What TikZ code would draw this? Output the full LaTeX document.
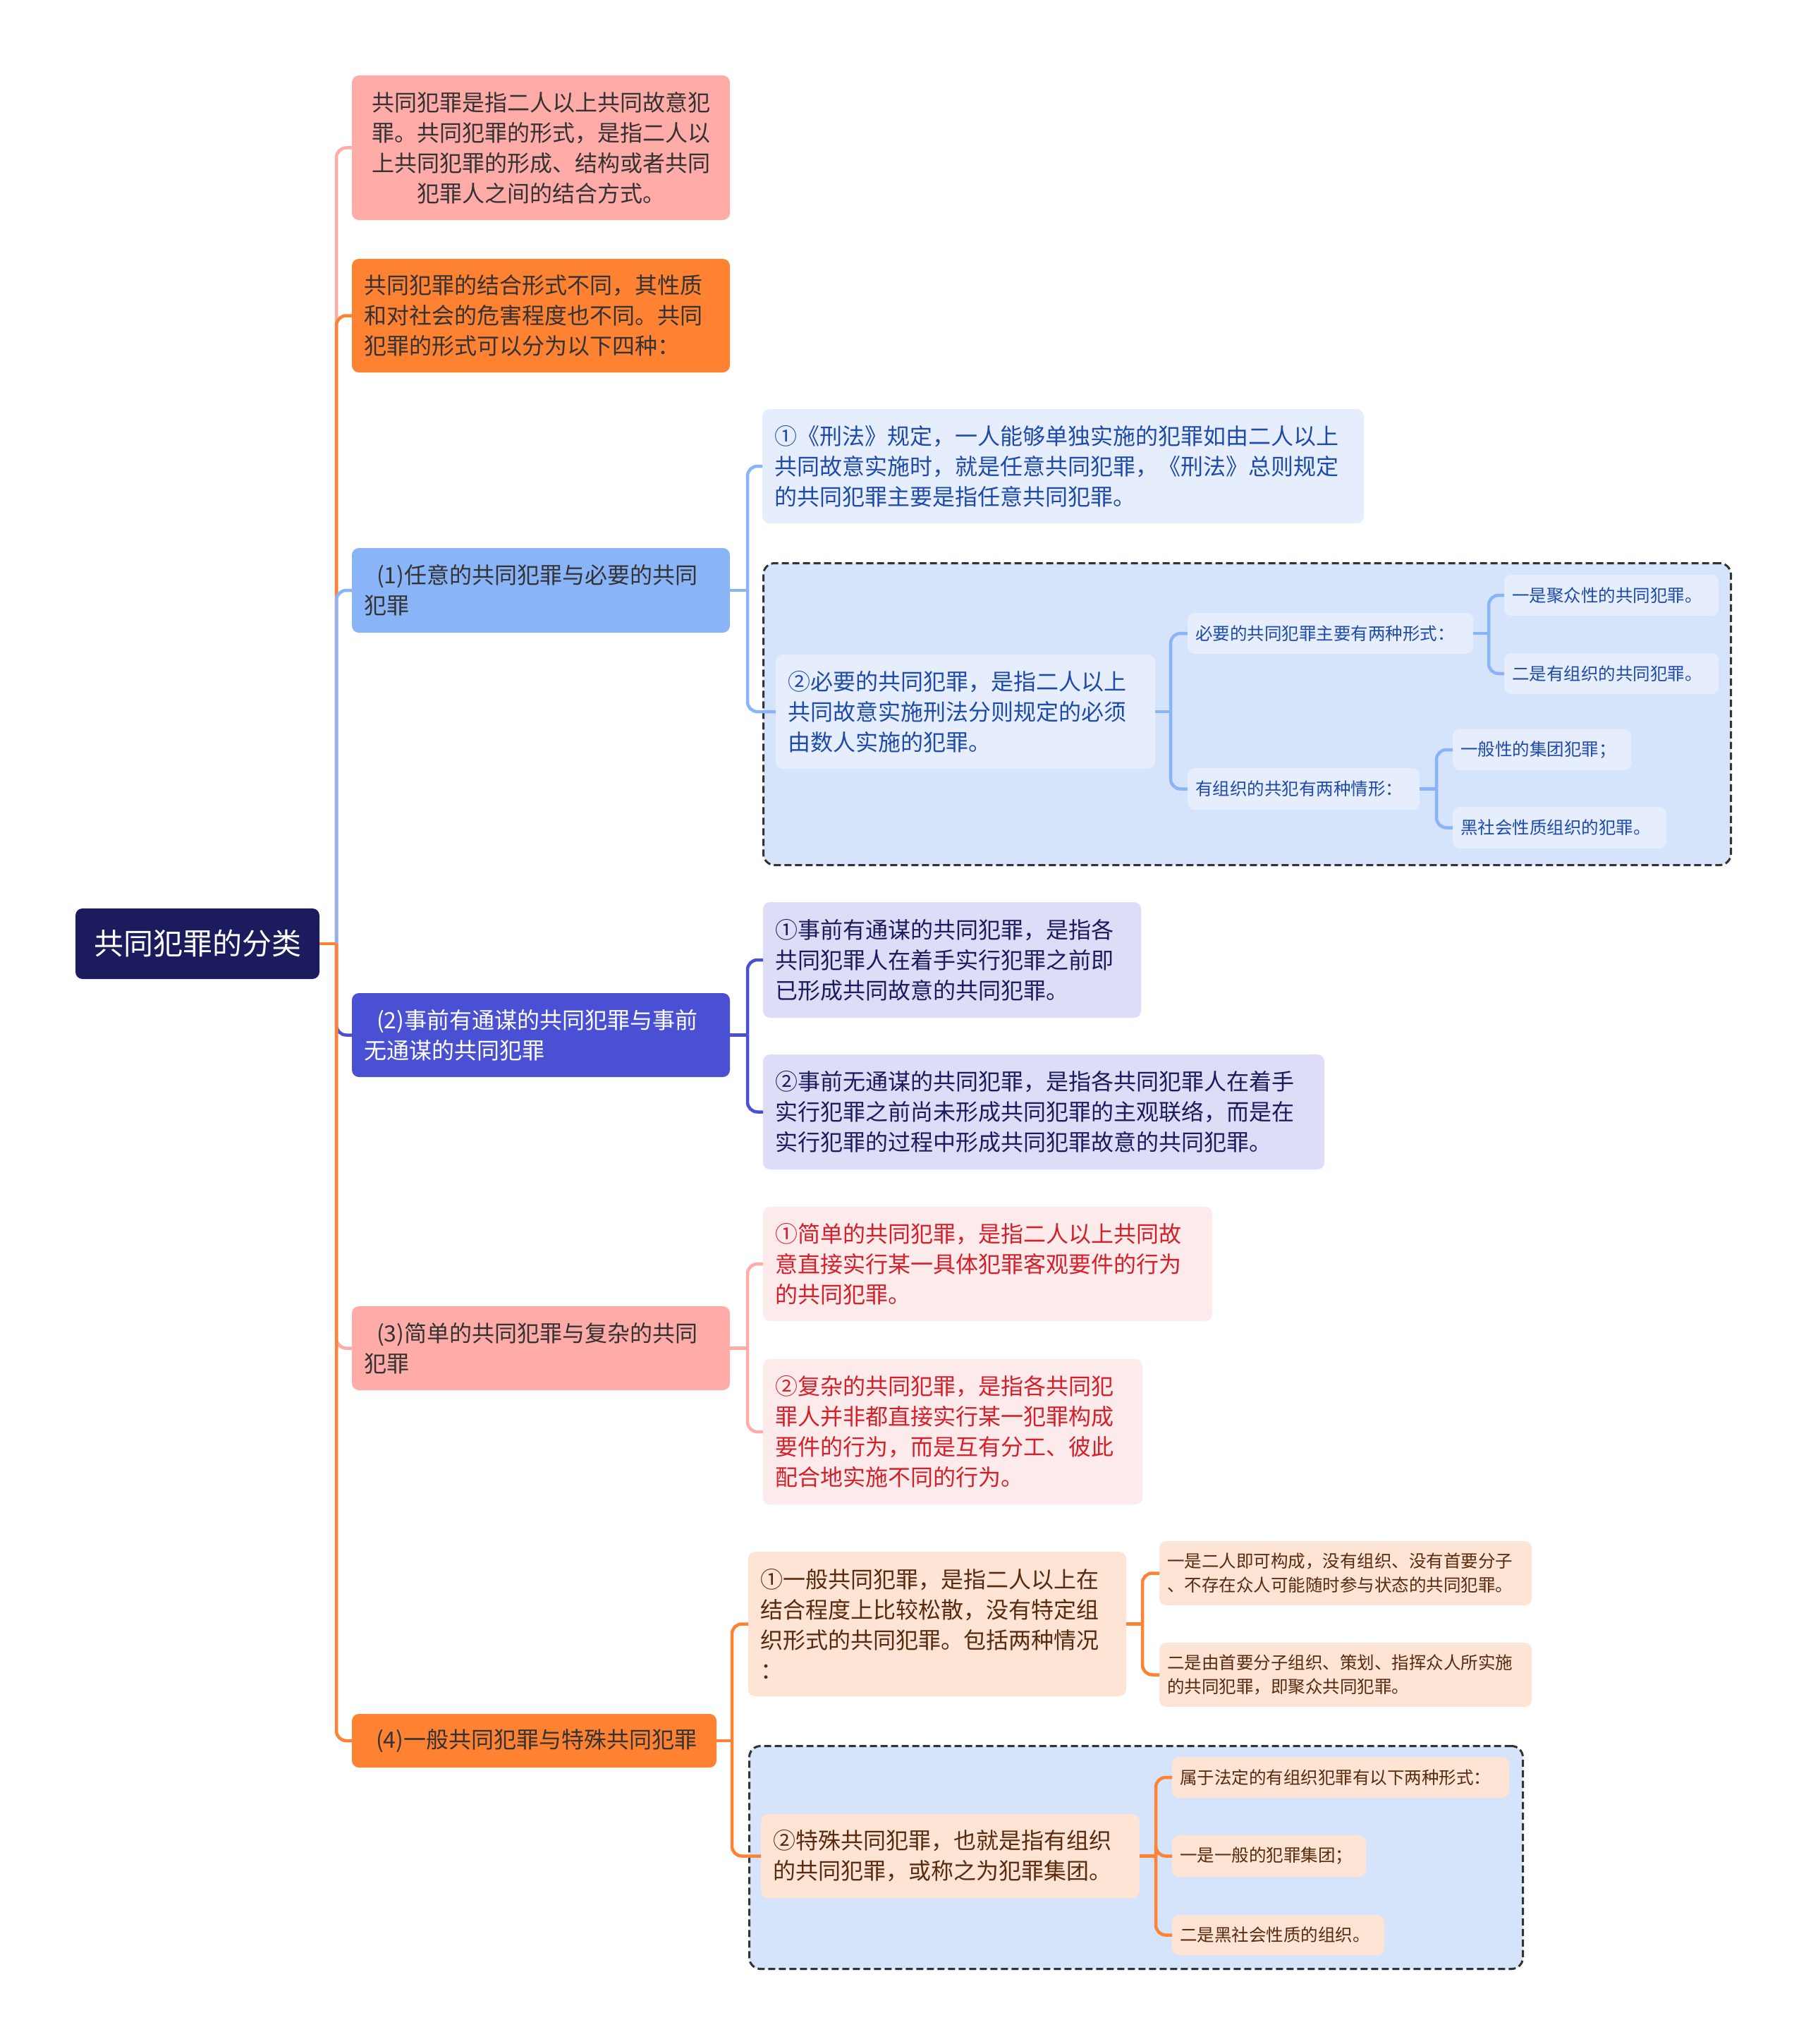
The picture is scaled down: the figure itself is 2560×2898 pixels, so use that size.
\documentclass[tikz,border=0pt]{standalone}
\usepackage{fontspec}
\setmainfont{Noto Sans CJK SC}
\definecolor{rootc}{HTML}{1C1B5E}
\definecolor{pinkc}{HTML}{FFABA8}
\definecolor{orangec}{HTML}{FF8132}
\definecolor{bluec}{HTML}{8AB4F8}
\definecolor{indigoc}{HTML}{4A50D4}
\definecolor{lblue}{HTML}{E6EEFD}
\definecolor{grpblue}{HTML}{D5E3FB}
\definecolor{lindigo}{HTML}{DDDDF8}
\definecolor{lpink}{HTML}{FDEBEB}
\definecolor{lorange}{HTML}{FDE4D5}
\definecolor{tblue}{HTML}{1E4BAA}
\definecolor{tnavy}{HTML}{1C1B5E}
\definecolor{tred}{HTML}{D4202A}
\definecolor{tbrown}{HTML}{5A2A0E}
\definecolor{tdark}{HTML}{333333}
\definecolor{dashc}{HTML}{333333}
\newcommand\nodebox[8]{%
  \pgfmathsetmacro\bxw{#4-#2}%
  \pgfmathsetmacro\bxh{#5-#3}%
  \pgfmathsetmacro\bxt{#4-#2-2*#6}%
  \node[#7, anchor=north west, inner xsep=#6pt, minimum width=\bxw pt, minimum height=\bxh pt, text width=\bxt pt] (#1) at (#2,#3) {#8};}
\begin{document}
\begin{tikzpicture}[x=1pt,y=-1pt,
  box/.style={rounded corners=10pt, inner ysep=0pt, outer sep=0pt, align=left},
  big/.style={box, font=\fontsize{32}{43}\selectfont},
  small/.style={box, font=\fontsize{24.5}{34}\selectfont},
  dbox/.style={rounded corners=16pt, draw=dashc, line width=3pt, dash pattern=on 10pt off 5pt, fill=grpblue, inner sep=0pt},
  conn/.style={line width=4.5pt, rounded corners=14pt}]
\useasboundingbox (0,0) rectangle (2560,2898);
\fill[white] (0,0) rectangle (2560,2898);
% group frames
\nodebox{Cgrp}{1081}{797}{2453}{1225}{0}{dbox}{}
\nodebox{Fgrp}{1061}{2474}{2158}{2790}{0}{dbox}{}
% root
\nodebox{root}{107}{1288}{453}{1388}{10}{box, align=center, fill=rootc, text=white, font=\fontsize{42}{50}\selectfont}{共同犯罪的分类}
% level 1
\nodebox{A}{499}{107}{1035}{312}{17}{big, align=center, fill=pinkc, text=tdark}{共同犯罪是指二人以上共同故意犯\\罪。共同犯罪的形式，是指二人以\\上共同犯罪的形成、结构或者共同\\犯罪人之间的结合方式。}
\nodebox{B}{499}{367}{1035}{528}{17}{big, fill=orangec, text=tdark}{共同犯罪的结合形式不同，其性质\\和对社会的危害程度也不同。共同\\犯罪的形式可以分为以下四种：}
\nodebox{C}{499}{777}{1035}{897}{17}{big, fill=bluec, text=tdark}{\hspace*{18pt}(1)任意的共同犯罪与必要的共同\\犯罪}
\nodebox{D}{499}{1408}{1035}{1527}{17}{big, fill=indigoc, text=white}{\hspace*{18pt}(2)事前有通谋的共同犯罪与事前\\无通谋的共同犯罪}
\nodebox{E}{499}{1852}{1035}{1971}{17}{big, fill=pinkc, text=tdark}{\hspace*{18pt}(3)简单的共同犯罪与复杂的共同\\犯罪}
\nodebox{F}{499}{2430}{1016}{2506}{16}{big, fill=orangec, text=tdark}{\hspace*{18pt}(4)一般共同犯罪与特殊共同犯罪}
% group C
\nodebox{C1}{1081}{580}{1934}{742}{17}{big, fill=lblue, text=tblue}{①《刑法》规定，一人能够单独实施的犯罪如由二人以上\\共同故意实施时，就是任意共同犯罪，《刑法》总则规定\\的共同犯罪主要是指任意共同犯罪。}
\nodebox{C2}{1100}{928}{1638}{1090}{17}{big, fill=lblue, text=tblue}{②必要的共同犯罪，是指二人以上\\共同故意实施刑法分则规定的必须\\由数人实施的犯罪。}
\nodebox{C2a}{1684}{869}{2089}{927}{11}{small, fill=lblue, text=tblue}{必要的共同犯罪主要有两种形式：}
\nodebox{C2a1}{2133}{815}{2437}{873}{11}{small, fill=lblue, text=tblue}{一是聚众性的共同犯罪。}
\nodebox{C2a2}{2133}{926}{2437}{984}{11}{small, fill=lblue, text=tblue}{二是有组织的共同犯罪。}
\nodebox{C2b}{1684}{1089}{2013}{1148}{11}{small, fill=lblue, text=tblue}{有组织的共犯有两种情形：}
\nodebox{C2b1}{2060}{1034}{2313}{1092}{11}{small, fill=lblue, text=tblue}{一般性的集团犯罪；}
\nodebox{C2b2}{2060}{1144}{2363}{1203}{11}{small, fill=lblue, text=tblue}{黑社会性质组织的犯罪。}
% group D
\nodebox{D1}{1082}{1279}{1618}{1443}{17}{big, fill=lindigo, text=tnavy}{①事前有通谋的共同犯罪，是指各\\共同犯罪人在着手实行犯罪之前即\\已形成共同故意的共同犯罪。}
\nodebox{D2}{1082}{1495}{1878}{1658}{17}{big, fill=lindigo, text=tnavy}{②事前无通谋的共同犯罪，是指各共同犯罪人在着手\\实行犯罪之前尚未形成共同犯罪的主观联络，而是在\\实行犯罪的过程中形成共同犯罪故意的共同犯罪。}
% group E
\nodebox{E1}{1082}{1711}{1719}{1873}{17}{big, fill=lpink, text=tred}{①简单的共同犯罪，是指二人以上共同故\\意直接实行某一具体犯罪客观要件的行为\\的共同犯罪。}
\nodebox{E2}{1082}{1927}{1620}{2133}{17}{big, fill=lpink, text=tred}{②复杂的共同犯罪，是指各共同犯\\罪人并非都直接实行某一犯罪构成\\要件的行为，而是互有分工、彼此\\配合地实施不同的行为。}
% group F
\nodebox{F1}{1061}{2200}{1597}{2405}{17}{big, fill=lorange, text=tbrown}{①一般共同犯罪，是指二人以上在\\结合程度上比较松散，没有特定组\\织形式的共同犯罪。包括两种情况\\：}
\nodebox{F1a}{1644}{2185}{2172}{2276}{11}{small, fill=lorange, text=tbrown}{一是二人即可构成，没有组织、没有首要分子\\、不存在众人可能随时参与状态的共同犯罪。}
\nodebox{F1b}{1644}{2329}{2172}{2420}{11}{small, fill=lorange, text=tbrown}{二是由首要分子组织、策划、指挥众人所实施\\的共同犯罪，即聚众共同犯罪。}
\nodebox{F2}{1079}{2572}{1616}{2691}{17}{big, fill=lorange, text=tbrown}{②特殊共同犯罪，也就是指有组织\\的共同犯罪，或称之为犯罪集团。}
\nodebox{F2a}{1662}{2491}{2140}{2549}{11}{small, fill=lorange, text=tbrown}{属于法定的有组织犯罪有以下两种形式：}
\nodebox{F2b}{1662}{2602}{1937}{2661}{11}{small, fill=lorange, text=tbrown}{一是一般的犯罪集团；}
\nodebox{F2c}{1662}{2715}{1963}{2772}{11}{small, fill=lorange, text=tbrown}{二是黑社会性质的组织。}
% junctions
\path (root.east) ++(24,0) coordinate (jr);
\path (C.east) ++(25,0) coordinate (jc);
\path (D.east) ++(25,0) coordinate (jd);
\path (E.east) ++(25,0) coordinate (je);
\path (F.east) ++(22,0) coordinate (jf);
\path (C2.east) ++(22,0) coordinate (jc2);
\path (C2a.east) ++(22,0) coordinate (jc2a);
\path (C2b.east) ++(24,0) coordinate (jc2b);
\path (F1.east) ++(23,0) coordinate (jf1);
\path (F2.east) ++(23,0) coordinate (jf2);
% main trunk
\draw[conn, draw=pinkc] (jr) |- (A.west);
\draw[conn, draw=orangec] (jr) |- (B.west);
\draw[conn, draw=bluec] (jr) |- (C.west);
\draw[conn, draw=indigoc] (jr) |- (D.west);
\draw[conn, draw=pinkc] (jr) |- (E.west);
\draw[conn, draw=orangec] (jr) |- (F.west);
\draw[conn, draw=orangec] (root.east) -- (jr);
% C connectors
\draw[conn, draw=bluec] (C.east) -- (jc);
\draw[conn, draw=bluec] (jc) |- (C1.west);
\draw[conn, draw=bluec] (jc) |- (C2.west);
\draw[conn, draw=bluec] (C2.east) -- (jc2);
\draw[conn, draw=bluec] (jc2) |- (C2a.west);
\draw[conn, draw=bluec] (jc2) |- (C2b.west);
\draw[conn, draw=bluec] (C2a.east) -- (jc2a);
\draw[conn, draw=bluec] (jc2a) |- (C2a1.west);
\draw[conn, draw=bluec] (jc2a) |- (C2a2.west);
\draw[conn, draw=bluec] (C2b.east) -- (jc2b);
\draw[conn, draw=bluec] (jc2b) |- (C2b1.west);
\draw[conn, draw=bluec] (jc2b) |- (C2b2.west);
% D connectors
\draw[conn, draw=indigoc] (D.east) -- (jd);
\draw[conn, draw=indigoc] (jd) |- (D1.west);
\draw[conn, draw=indigoc] (jd) |- (D2.west);
% E connectors
\draw[conn, draw=pinkc] (E.east) -- (je);
\draw[conn, draw=pinkc] (je) |- (E1.west);
\draw[conn, draw=pinkc] (je) |- (E2.west);
% F connectors
\draw[conn, draw=orangec] (F.east) -- (jf);
\draw[conn, draw=orangec] (jf) |- (F1.west);
\draw[conn, draw=orangec] (jf) |- (F2.west);
\draw[conn, draw=orangec] (F1.east) -- (jf1);
\draw[conn, draw=orangec] (jf1) |- (F1a.west);
\draw[conn, draw=orangec] (jf1) |- (F1b.west);
\draw[conn, draw=orangec] (F2.east) -- (jf2);
\draw[conn, draw=orangec] (jf2) |- (F2a.west);
\draw[conn, draw=orangec] (jf2) |- (F2b.west);
\draw[conn, draw=orangec] (jf2) |- (F2c.west);
\end{tikzpicture}
\end{document}
